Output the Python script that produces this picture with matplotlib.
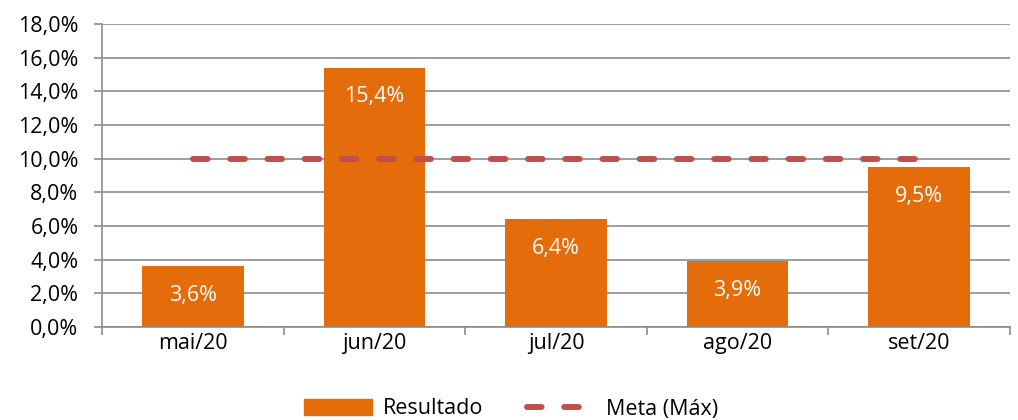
import matplotlib.pyplot as plt
from matplotlib.ticker import FuncFormatter
from matplotlib.lines import Line2D
from matplotlib.patches import Patch

plt.rcParams['font.family'] = ['Open Sans', 'DejaVu Sans']
plt.rcParams['lines.scale_dashes'] = False

meses = ['mai/20', 'jun/20', 'jul/20', 'ago/20', 'set/20']
resultado = [3.6, 15.4, 6.4, 3.9, 9.5]
meta = [10.0, 10.0, 10.0, 10.0, 10.0]

laranja = '#E46C0A'
vermelho = '#C0504D'
cinza = '#8C8C8C'
fs = 15.5

fig = plt.figure(figsize=(10.18, 4.2), dpi=100)
ax = fig.add_axes([102 / 1018, 1 - 327 / 420, (1010 - 102) / 1018, (327 - 24) / 420])

x = list(range(len(meses)))
ax.bar(x, resultado, width=0.56, color=laranja, zorder=2)
ax.plot(x, meta, color=vermelho, lw=4.3, dashes=(10.5, 16.3),
        dash_capstyle='round', zorder=3)

for xi, v in zip(x, resultado):
    ax.annotate(f'{v:.1f}%'.replace('.', ','), (xi, v), xytext=(0, -21),
                textcoords='offset points', ha='center', va='center',
                color='white', fontsize=fs)

ax.set_ylim(0, 18)
ax.set_yticks(range(0, 19, 2))
ax.yaxis.set_major_formatter(FuncFormatter(lambda v, p: f'{v:.1f}%'.replace('.', ',')))
ax.set_xlim(-0.5, len(meses) - 0.5)
ax.set_xticks(x)
ax.set_xticklabels(meses)
ax.set_xticks([i + 0.5 for i in range(-1, len(meses))], minor=True)
ax.tick_params(axis='x', which='major', length=0, pad=4, labelsize=fs)
ax.tick_params(axis='x', which='minor', length=6, color=cinza, width=1.2)
ax.tick_params(axis='y', length=6, color=cinza, width=1.2, labelsize=fs, pad=11)

ax.grid(axis='y', color=cinza, lw=1.2, zorder=0)
for s in ['top', 'right']:
    ax.spines[s].set_visible(False)
ax.spines['left'].set_color(cinza)
ax.spines['bottom'].set_color(cinza)
ax.spines['left'].set_linewidth(1.2)
ax.spines['bottom'].set_linewidth(1.2)

handles = [Patch(color=laranja, label='Resultado'),
           Line2D([0], [0], color=vermelho, lw=4.3, dashes=(10.5, 16.3),
                  dash_capstyle='round', label='Meta (Máx)')]
fig.legend(handles=handles, loc='center', bbox_to_anchor=(0.502, 11 / 420),
           ncol=2, frameon=False, fontsize=fs, handlelength=3.2,
           handleheight=0.8, columnspacing=2.0, handletextpad=0.5)

fig.savefig('out.png', dpi=100)
